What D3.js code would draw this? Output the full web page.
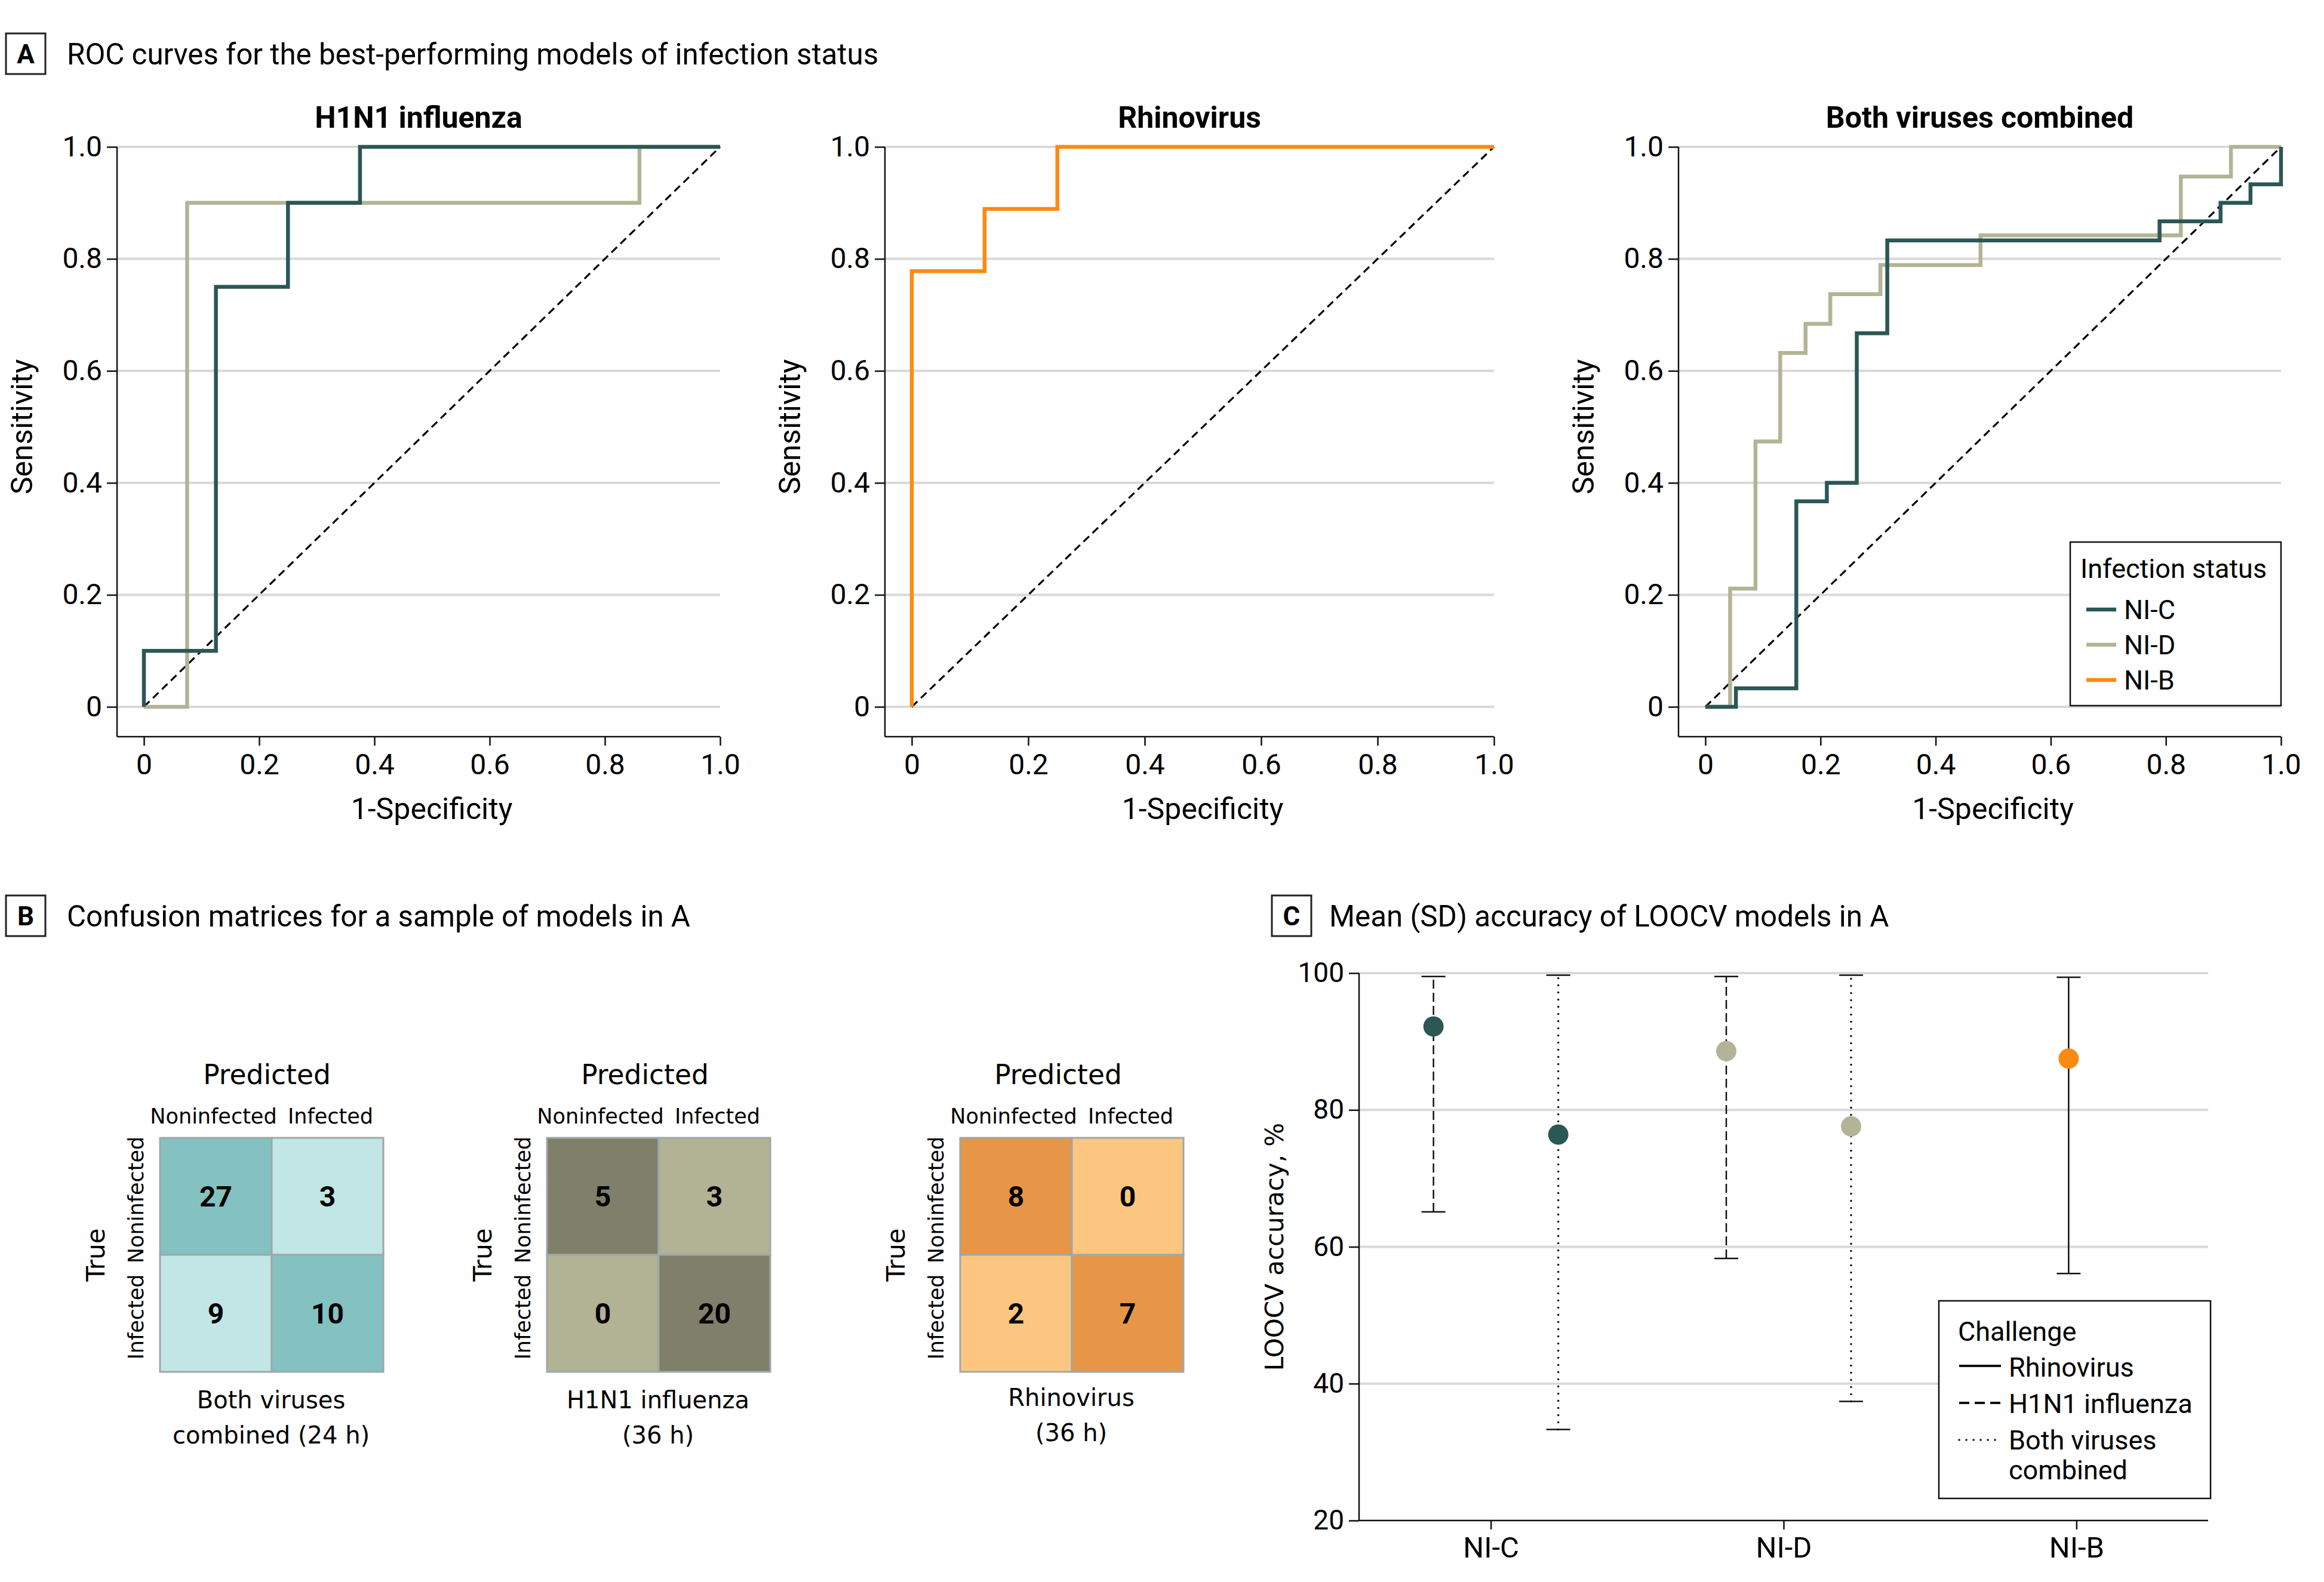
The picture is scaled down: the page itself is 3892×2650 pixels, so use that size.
<!DOCTYPE html>
<html><head><meta charset="utf-8">
<script src="https://cdn.jsdelivr.net/npm/d3@7"></script>
<style>body{margin:0;background:#fff}svg{display:block}</style>
</head><body>
<svg id="chart" width="3892" height="2650"></svg>
<script>
// ---------------- DATA ----------------
const rocPanelTitles = ["H1N1 influenza", "Rhinovirus", "Both viruses combined"];
const statusNames = ["NI-C", "NI-D", "NI-B"];
const rocTicks = [0, 0.2, 0.4, 0.6, 0.8, 1.0];
const rocTickLabels = ["0", "0.2", "0.4", "0.6", "0.8", "1.0"];

// H1N1 influenza
const h1n1NID_fpr = [0, 0.075, 0.075, 0.86, 0.86, 1];
const h1n1NID_tpr = [0, 0, 0.9, 0.9, 1, 1];
const h1n1NIC_fpr = [0, 0, 0.125, 0.125, 0.25, 0.25, 0.375, 0.375, 1];
const h1n1NIC_tpr = [0, 0.1, 0.1, 0.75, 0.75, 0.9, 0.9, 1, 1];
// Rhinovirus
const rhinoNIB_fpr = [0, 0, 0.125, 0.125, 0.25, 0.25, 1];
const rhinoNIB_tpr = [0, 0.778, 0.778, 0.889, 0.889, 1, 1];
// Both viruses combined
const bothNID_fpr = [0, 0.043, 0.043, 0.087, 0.087, 0.13, 0.13, 0.174, 0.174, 0.217, 0.217, 0.304, 0.304, 0.478, 0.478, 0.826, 0.826, 0.913, 0.913, 1];
const bothNID_tpr = [0, 0, 0.211, 0.211, 0.474, 0.474, 0.632, 0.632, 0.684, 0.684, 0.737, 0.737, 0.789, 0.789, 0.842, 0.842, 0.947, 0.947, 1, 1];
const bothNIC_fpr = [0, 0.053, 0.053, 0.158, 0.158, 0.211, 0.211, 0.263, 0.263, 0.316, 0.316, 0.789, 0.789, 0.895, 0.895, 0.947, 0.947, 1, 1];
const bothNIC_tpr = [0, 0, 0.033, 0.033, 0.367, 0.367, 0.4, 0.4, 0.667, 0.667, 0.833, 0.833, 0.867, 0.867, 0.9, 0.9, 0.933, 0.933, 1];

const rocSeries = [
  {panel: 0, status: "NI-D", fpr: h1n1NID_fpr, tpr: h1n1NID_tpr},
  {panel: 0, status: "NI-C", fpr: h1n1NIC_fpr, tpr: h1n1NIC_tpr},
  {panel: 1, status: "NI-B", fpr: rhinoNIB_fpr, tpr: rhinoNIB_tpr},
  {panel: 2, status: "NI-D", fpr: bothNID_fpr, tpr: bothNID_tpr},
  {panel: 2, status: "NI-C", fpr: bothNIC_fpr, tpr: bothNIC_tpr}
];

// Confusion matrices
const matrixLabels = ["Noninfected", "Infected"];
const matrixCaptions = [["Both viruses", "combined (24 h)"], ["H1N1 influenza", "(36 h)"], ["Rhinovirus", "(36 h)"]];
const matrixCounts = [[27, 3, 9, 10], [5, 3, 0, 20], [8, 0, 2, 7]];

// LOOCV accuracy
const accCategories = ["NI-C", "NI-D", "NI-B"];
const challengeNames = ["Rhinovirus", "H1N1 influenza", "Both viruses combined"];
const accCategory = ["NI-C", "NI-C", "NI-D", "NI-D", "NI-B"];
const accChallenge = ["H1N1 influenza", "Both viruses combined", "H1N1 influenza", "Both viruses combined", "Rhinovirus"];
const accMean = [92.2, 76.4, 88.6, 77.6, 87.5];
const accLower = [65.1, 33.3, 58.3, 37.4, 56.1];
const accUpper = [99.5, 99.7, 99.5, 99.7, 99.4];
const accTicks = [20, 40, 60, 80, 100];

// ---------------- STYLE ----------------
const FONT = "Roboto, 'Liberation Sans', Arial, sans-serif";
const FONTV = "'DejaVu Sans', Verdana, sans-serif";
const INK = "#000";
const statusColor = d3.scaleOrdinal().domain(statusNames).range(["#2b5755", "#b3b496", "#ff8a12"]);
const GRID = "#d9d9d9";
const svg = d3.select("#chart");

function styleAxis(g, size) {
  g.attr("font-family", FONT).attr("font-size", size);
  g.selectAll(".tick line").attr("stroke", "#111").attr("stroke-width", 2.5);
  g.selectAll(".tick text").attr("fill", INK);
  g.select(".domain").remove();
}

function header(x, y, letter, title, gap) {
  svg.append("rect").attr("x", x).attr("y", y).attr("width", 66).attr("height", 68)
    .attr("fill", "none").attr("stroke", "#222").attr("stroke-width", 3);
  svg.append("text").attr("x", x + 33).attr("y", y + 34).attr("dy", "0.36em").attr("text-anchor", "middle")
    .attr("font-family", FONT).attr("font-weight", "bold").attr("font-size", 44).attr("fill", INK).text(letter);
  svg.append("text").attr("x", x + gap).attr("y", y + 34).attr("dy", "0.36em")
    .attr("font-family", FONT).attr("font-size", 49.3).attr("fill", INK).text(title);
}
header(10, 56, "A", "ROC curves for the best-performing models of infection status", 102);
header(10, 1500, "B", "Confusion matrices for a sample of models in A", 102);
header(2130, 1500, "C", "Mean (SD) accuracy of LOOCV models in A", 96);

// ---------------- PANEL A ----------------
const rocLayout = [{x0: 241, x1: 1206}, {x0: 1527, x1: 2502}, {x0: 2856, x1: 3820}];
const rocTop = 246, rocBottom = 1184, rocAxisY = 1234;

rocPanelTitles.forEach((title, i) => {
  const L = rocLayout[i];
  const axisX = L.x0 - 45;
  const x = d3.scaleLinear().domain([0, 1]).range([L.x0, L.x1]);
  const y = d3.scaleLinear().domain([0, 1]).range([rocBottom, rocTop]);
  const g = svg.append("g");

  g.selectAll("line.grid").data(rocTicks).join("line").attr("class", "grid")
    .attr("x1", axisX).attr("x2", L.x1).attr("y1", d => y(d)).attr("y2", d => y(d))
    .attr("stroke", GRID).attr("stroke-width", 4);

  const ya = g.append("g").attr("transform", `translate(${axisX},0)`)
    .call(d3.axisLeft(y).tickValues(rocTicks).tickFormat((d, k) => rocTickLabels[k]).tickSize(17).tickPadding(8));
  styleAxis(ya, 48);
  const xa = g.append("g").attr("transform", `translate(0,${rocAxisY})`)
    .call(d3.axisBottom(x).tickValues(rocTicks).tickFormat((d, k) => rocTickLabels[k]).tickSize(15).tickPadding(14));
  styleAxis(xa, 48);
  g.append("line").attr("x1", axisX).attr("x2", axisX).attr("y1", rocTop).attr("y2", rocAxisY)
    .attr("stroke", "#111").attr("stroke-width", 2.5);
  g.append("line").attr("x1", axisX).attr("x2", L.x1).attr("y1", rocAxisY).attr("y2", rocAxisY)
    .attr("stroke", "#111").attr("stroke-width", 2.5);

  // diagonal reference
  g.append("line").attr("x1", x(0)).attr("y1", y(0)).attr("x2", x(1)).attr("y2", y(1))
    .attr("stroke", "#000").attr("stroke-width", 3.2).attr("stroke-dasharray", "13,8");

  const line = d3.line().x(d => x(d[0])).y(d => y(d[1]));
  rocSeries.filter(s => s.panel === i).forEach(s => {
    g.append("path").attr("d", line(d3.zip(s.fpr, s.tpr))).attr("fill", "none")
      .attr("stroke", statusColor(s.status)).attr("stroke-width", 6.5).attr("stroke-linejoin", "miter");
  });

  g.append("text").attr("x", (axisX + L.x1) / 2).attr("y", 196).attr("dy", "0.36em").attr("text-anchor", "middle")
    .attr("font-family", FONT).attr("font-weight", "bold").attr("font-size", 50).attr("fill", INK).text(title);
  g.append("text").attr("x", (axisX + L.x1) / 2 + 22).attr("y", 1354).attr("dy", "0.36em").attr("text-anchor", "middle")
    .attr("font-family", FONT).attr("font-size", 50).attr("fill", INK).text("1-Specificity");
  g.append("text").attr("transform", `translate(${axisX - 160},${(rocTop + rocBottom) / 2}) rotate(-90)`)
    .attr("dy", "0.36em").attr("text-anchor", "middle")
    .attr("font-family", FONT).attr("font-size", 50).attr("fill", INK).text("Sensitivity");

  if (i === 2) {
    const lg = g.append("g");
    lg.append("rect").attr("x", 3467).attr("y", 908).attr("width", 353).attr("height", 274)
      .attr("fill", "#fff").attr("stroke", "#111").attr("stroke-width", 2.5);
    lg.append("text").attr("x", 3484).attr("y", 968).attr("font-family", FONT).attr("font-size", 45)
      .attr("fill", INK).text("Infection status");
    const ly = d3.scalePoint().domain(statusNames).range([1021, 1139]);
    statusNames.forEach(s => {
      lg.append("line").attr("x1", 3494).attr("x2", 3544).attr("y1", ly(s)).attr("y2", ly(s))
        .attr("stroke", statusColor(s)).attr("stroke-width", 6.5);
      lg.append("text").attr("x", 3557).attr("y", ly(s)).attr("dy", "0.36em").attr("font-family", FONT)
        .attr("font-size", 45).attr("fill", INK).text(s);
    });
  }
});

// ---------------- PANEL B ----------------
const matrixLeft = [268, 916, 1608];
const predictedOffset = [179, 164, 164];
const matrixTop = 1906, cellW = 187, cellH = 196;
const matrixColors = [["#84c1c1", "#c1e6e5"], ["#807f69", "#b2b294"], ["#e69646", "#fdc680"]];
const colLabelShift = [-4, 5];

matrixCounts.forEach((counts, m) => {
  const mx = matrixLeft[m];
  const col = d3.scaleBand().domain(matrixLabels).range([mx, mx + 2 * cellW]);
  const row = d3.scaleBand().domain(matrixLabels).range([matrixTop, matrixTop + 2 * cellH]);
  const g = svg.append("g");
  const cells = counts.map((v, k) => ({v, r: matrixLabels[Math.floor(k / 2)], c: matrixLabels[k % 2], diag: Math.floor(k / 2) === k % 2}));
  g.selectAll("rect").data(cells).join("rect")
    .attr("x", d => col(d.c)).attr("y", d => row(d.r)).attr("width", col.bandwidth()).attr("height", row.bandwidth())
    .attr("fill", d => d.diag ? matrixColors[m][0] : matrixColors[m][1])
    .attr("stroke", "#9ea8a8").attr("stroke-width", 3);
  g.selectAll("text.num").data(cells).join("text").attr("class", "num")
    .attr("x", d => col(d.c) + col.bandwidth() / 2).attr("y", d => row(d.r) + row.bandwidth() / 2)
    .attr("dy", "0.36em").attr("text-anchor", "middle").attr("font-family", FONT).attr("font-weight", "bold")
    .attr("font-size", 48).attr("fill", INK).text(d => d.v);
  g.append("text").attr("x", mx + predictedOffset[m]).attr("y", 1800).attr("dy", "0.36em").attr("text-anchor", "middle")
    .attr("font-family", FONTV).attr("font-size", 45.5).attr("fill", INK).text("Predicted");
  matrixLabels.forEach((lbl, k) => {
    g.append("text").attr("x", col(lbl) + col.bandwidth() / 2 + colLabelShift[k]).attr("y", 1869).attr("dy", "0.36em")
      .attr("text-anchor", "middle").attr("font-family", FONTV).attr("font-size", 35).attr("fill", INK).text(lbl);
    g.append("text").attr("transform", `translate(${mx - 41},${row(lbl) + row.bandwidth() / 2 + 6}) rotate(-90)`)
      .attr("dy", "0.36em").attr("text-anchor", "middle").attr("font-family", FONTV).attr("font-size", 35)
      .attr("fill", INK).text(lbl);
  });
  g.append("text").attr("transform", `translate(${mx - 108},${matrixTop + cellH}) rotate(-90)`)
    .attr("dy", "0.36em").attr("text-anchor", "middle").attr("font-family", FONTV).attr("font-size", 42)
    .attr("fill", INK).text("True");
  matrixCaptions[m].forEach((t, k) => {
    g.append("text").attr("x", mx + 186).attr("y", 2345 + k * 59 - (m === 2 ? 4 : 0)).attr("dy", "0.36em").attr("text-anchor", "middle")
      .attr("font-family", FONTV).attr("font-size", 40).attr("fill", INK).text(t);
  });
});

// ---------------- PANEL C ----------------
const cLeft = 2276, cRight = 3698, cTop = 1630, cBottom = 2547;
const cx = d3.scalePoint().domain(accCategories).range([cLeft, cRight]).padding(0.45);
const cy = d3.scaleLinear().domain([20, 100]).range([cBottom, cTop]);
const dodge = d3.scaleOrdinal().domain(challengeNames).range([-13, -96, 113]);
const dashFor = d3.scaleOrdinal().domain(challengeNames).range(["none", "15,7", "0.1,11.9"]);
const gc = svg.append("g");

gc.selectAll("line.grid").data(accTicks.filter(t => t > 20)).join("line").attr("class", "grid")
  .attr("x1", cLeft).attr("x2", cRight).attr("y1", d => cy(d)).attr("y2", d => cy(d))
  .attr("stroke", GRID).attr("stroke-width", 4);
const cya = gc.append("g").attr("transform", `translate(${cLeft},0)`)
  .call(d3.axisLeft(cy).tickValues(accTicks).tickSize(17).tickPadding(8));
styleAxis(cya, 46);
const cxa = gc.append("g").attr("transform", `translate(0,${cBottom})`)
  .call(d3.axisBottom(cx).tickSize(15).tickPadding(12));
styleAxis(cxa, 49);
gc.append("line").attr("x1", cLeft).attr("x2", cLeft).attr("y1", cTop).attr("y2", cBottom).attr("stroke", "#111").attr("stroke-width", 2.5);
gc.append("line").attr("x1", cLeft).attr("x2", cRight).attr("y1", cBottom).attr("y2", cBottom).attr("stroke", "#111").attr("stroke-width", 2.5);
gc.append("text").attr("transform", `translate(2134,${(cTop + cBottom) / 2}) rotate(-90)`)
  .attr("dy", "0.36em").attr("text-anchor", "middle").attr("font-family", FONTV).attr("font-size", 42)
  .attr("fill", INK).text("LOOCV accuracy, %");

// legend
const lc = gc.append("g");
lc.append("rect").attr("x", 3247).attr("y", 2179).attr("width", 455).attr("height", 331)
  .attr("fill", "#fff").attr("stroke", "#111").attr("stroke-width", 2.5);
lc.append("text").attr("x", 3279).attr("y", 2246).attr("font-family", FONT).attr("font-size", 45).attr("fill", INK).text("Challenge");
const legY = d3.scalePoint().domain(challengeNames).range([2288, 2412]);
challengeNames.forEach(c => {
  lc.append("line").attr("x1", 3281).attr("x2", 3351).attr("y1", legY(c)).attr("y2", legY(c))
    .attr("stroke", "#111").attr("stroke-width", c === "Both viruses combined" ? 3.5 : 4)
    .attr("stroke-linecap", c === "Both viruses combined" ? "round" : "butt")
    .attr("stroke-dasharray", c === "H1N1 influenza" ? "17,9" : dashFor(c));
});
lc.append("text").attr("x", 3364).attr("y", 2306).attr("font-family", FONT).attr("font-size", 45).attr("fill", INK).text("Rhinovirus");
lc.append("text").attr("x", 3364).attr("y", 2367).attr("font-family", FONT).attr("font-size", 45).attr("fill", INK).text("H1N1 influenza");
lc.append("text").attr("x", 3364).attr("y", 2428).attr("font-family", FONT).attr("font-size", 45).attr("fill", INK).text("Both viruses");
lc.append("text").attr("x", 3364).attr("y", 2478).attr("font-family", FONT).attr("font-size", 45).attr("fill", INK).text("combined");

const accData = accMean.map((m, k) => ({cat: accCategory[k], ch: accChallenge[k], mean: m, lo: accLower[k], hi: accUpper[k]}));
const px = d => cx(d.cat) + dodge(d.ch);
gc.selectAll("line.bar").data(accData).join("line").attr("class", "bar")
  .attr("x1", px).attr("x2", px).attr("y1", d => cy(d.lo)).attr("y2", d => cy(d.hi))
  .attr("stroke", "#111").attr("stroke-width", d => d.ch === "Both viruses combined" ? 3.6 : 2.5)
  .attr("stroke-linecap", d => d.ch === "Both viruses combined" ? "round" : "butt")
  .attr("stroke-dasharray", d => dashFor(d.ch));
["lo", "hi"].forEach(key => {
  gc.selectAll("line.cap" + key).data(accData).join("line").attr("class", "cap" + key)
    .attr("x1", d => px(d) - 20).attr("x2", d => px(d) + 20).attr("y1", d => cy(d[key])).attr("y2", d => cy(d[key]))
    .attr("stroke", "#111").attr("stroke-width", 2.5);
});
gc.selectAll("circle").data(accData).join("circle")
  .attr("cx", px).attr("cy", d => cy(d.mean)).attr("r", 17).attr("fill", d => statusColor(d.cat));
</script>
</body></html>
